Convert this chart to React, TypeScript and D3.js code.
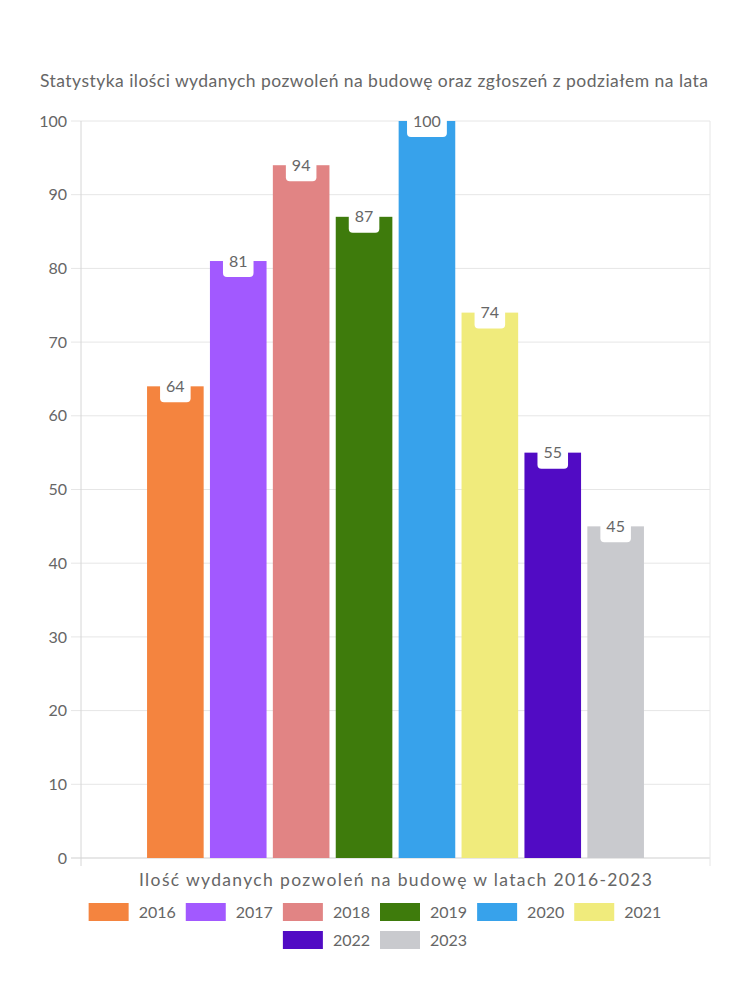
import React from "react";
import * as d3 from "d3";

const years = ["2016", "2017", "2018", "2019", "2020", "2021", "2022", "2023"];
const values = [64, 81, 94, 87, 100, 74, 55, 45];
const colors = ["#F4843F", "#A259FF", "#E18484", "#3E7B0C", "#37A2EB", "#F0EB7C", "#510BC4", "#C9CACE"];
const yTicks = [0, 10, 20, 30, 40, 50, 60, 70, 80, 90, 100];
const titleText = "Statystyka ilości wydanych pozwoleń na budowę oraz zgłoszeń z podziałem na lata";
const xTitleText = "Ilość wydanych pozwoleń na budowę w latach 2016-2023";

const FONT = "Lato, 'Open Sans', sans-serif";
const TXT = "#666666";

function measure(text: string, size: number) {
  const c = document.createElement("canvas").getContext("2d")!;
  c.font = `${size}px Lato`;
  return c.measureText(text).width;
}

export default function App() {
  const W = 750, H = 1000;
  const left = 81, right = 710, top = 121, bottom = 858;
  const y = d3.scaleLinear().domain([0, 100]).range([bottom, top]);
  const cw = right - left;
  const x = d3
    .scaleBand<string>()
    .domain(years)
    .range([left + cw * 0.1, right - cw * 0.1])
    .paddingInner(0.1)
    .paddingOuter(0.05);

  // legend layout
  const boxW = 40, boxH = 18, gap = 10, perRow = 6, lfs = 16;
  const items = years.map((yr, i) => ({ yr, i, w: boxW + gap + measure(yr, lfs) }));
  const rows: typeof items[] = [];
  for (let i = 0; i < items.length; i += perRow) rows.push(items.slice(i, i + perRow));
  const itemGap = 10;

  return (
    <svg width={W} height={H} style={{ position: "absolute", left: 0, top: 0, background: "#fff" }} fontFamily={FONT}>
      <text x={374} y={87} textAnchor="middle" fontSize={17.5} fill={TXT} textLength={668} lengthAdjust="spacing">{titleText}</text>
      {/* grid */}
      {yTicks.map((t) => (
        <g key={t}>
          <line x1={71} x2={right} y1={y(t)} y2={y(t)} stroke={t === 0 ? "#cfcfcf" : "#e6e6e6"} strokeWidth={1} />
          <text x={67} y={y(t)} dy="0.35em" textAnchor="end" fontSize={16} fill={TXT}>{t}</text>
        </g>
      ))}
      <line x1={left} x2={left} y1={top} y2={bottom + 8} stroke="#d6d6d6" />
      <line x1={right} x2={right} y1={top} y2={bottom + 8} stroke="#e6e6e6" />
      {/* bars */}
      {years.map((yr, i) => (
        <rect key={yr} x={x(yr)} y={y(values[i])} width={x.bandwidth()} height={y(0) - y(values[i])} fill={colors[i]} />
      ))}
      {/* labels */}
      {years.map((yr, i) => {
        const tw = measure(String(values[i]), 16);
        const bw = tw + 12;
        const cx = x(yr)! + x.bandwidth() / 2;
        const cy = y(values[i]);
        return (
          <g key={"l" + yr}>
            <rect x={cx - bw / 2} y={cy - 16} width={bw} height={32} rx={4} fill="#fff" />
            <text x={cx} y={cy} dy="0.35em" textAnchor="middle" fontSize={16} fill={TXT}>{values[i]}</text>
          </g>
        );
      })}
      <text x={(left + right) / 2} y={886} textAnchor="middle" fontSize={17.5} fill={TXT} textLength={513} lengthAdjust="spacing">{xTitleText}</text>
      {/* legend */}
      {rows.map((row, ri) => {
        const total = row.reduce((s, it) => s + it.w, 0) + itemGap * (row.length - 1);
        let cur = W / 2 - total / 2;
        const cy = 912 + ri * 28;
        return row.map((it) => {
          const x0 = cur;
          cur += it.w + itemGap;
          return (
            <g key={it.yr}>
              <rect x={x0} y={cy - boxH / 2} width={boxW} height={boxH} fill={colors[it.i]} />
              <text x={x0 + boxW + gap} y={cy} dy="0.35em" fontSize={lfs} fill={TXT}>{it.yr}</text>
            </g>
          );
        });
      })}
    </svg>
  );
}
